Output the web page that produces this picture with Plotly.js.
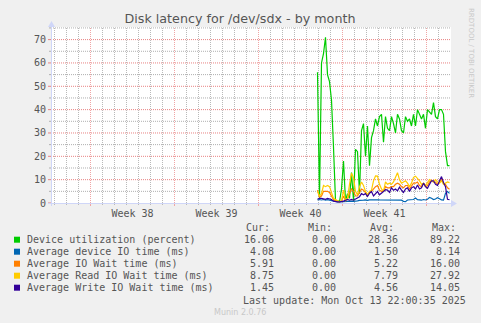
<!DOCTYPE html>
<html>
<head>
<meta charset="utf-8">
<script src="https://cdn.plot.ly/plotly-3.0.1.min.js"></script>
<style>html,body{margin:0;padding:0;background:#f0f0f0;}#chart{width:481px;height:323px;}</style>
</head>
<body>
<div id="chart"></div>
<script>
// ---- data ----
const seriesNames = [
  'Device utilization (percent)',
  'Average device IO time (ms)',
  'Average IO Wait time (ms)',
  'Average Read IO Wait time (ms)',
  'Average Write IO Wait time (ms)'
];
const seriesColors = ['#00cc00', '#0066b3', '#ff8000', '#ffcc00', '#330099'];
const startTime = '2025-10-02T22:00:00Z';
const stepHours = 4;

const utilization = [56, 2, 60, 64, 71, 55, 52, 44, 24, 1, 1, 0.5, 6, 18, 1, 4, 2, 13, 1, 23, 22, 4,
  31, 34, 20, 33, 16, 28, 31, 36, 33, 37, 38, 26, 37, 32, 31, 37, 34, 30, 38, 36, 31, 30, 37, 35,
  36, 33, 38, 33, 40, 38, 36, 38, 32, 40, 39, 38, 43, 37, 36, 40, 40, 38, 22, 16, 16];
const deviceIoTime = [1.3, 1.5, 1.3, 1.5, 1.2, 1.4, 1.2, 1, 0.7, 0.5, 0.5, 0.5, 0.6, 0.7, 0.5, 0.6, 0.7,
  0.8, 0.7, 0.7, 0.9, 1.1, 1.3, 1.2, 1.3, 1.1, 1.3, 1.4, 1.2, 1.3, 1.4, 1.3, 1.3, 1.5, 1.3, 1.3, 1.2,
  1.4, 1.3, 1.2, 1.4, 1.3, 1.2, 0.7, 0.6, 1.3, 1.4, 1.3, 1.5, 2.1, 1.4, 1.3, 1.2, 1.5, 1.3, 1.6, 2.4,
  2, 1.5, 1.7, 2.3, 1.8, 1.3, 1.2, 4.1, 4.9, 4.1];
const ioWait = [5.5, 2.5, 3, 5, 5, 5, 4.5, 3, 1.5, 1, 0.8, 0.5, 0.8, 3, 1, 1.8, 4, 6, 5, 3, 3, 4.5, 6,
  5.5, 4.5, 3, 4.5, 5, 6, 7, 7.5, 5.5, 5, 5, 7, 6.5, 6.5, 7, 7, 8, 8.5, 8, 7, 6.5, 7.5, 7.5, 6, 7.5,
  8.5, 8.5, 9, 7.5, 7, 8.5, 7, 7.5, 9, 9.5, 9, 9, 8, 8.8, 10, 8.5, 8, 6.5, 5.9];
const readIoWait = [5, 3, 4, 7.5, 7, 7.5, 7, 4, 2, 1.5, 1, 0.5, 1, 5.5, 1, 2, 8, 12.7, 11, 5, 3.5, 7, 9,
  7.5, 5, 3.5, 5, 5.5, 9.5, 11.6, 11.5, 8, 6, 5, 9, 8, 8.5, 8, 9, 11, 13, 10, 8.5, 9, 9.5, 8.5, 7, 8.5,
  11, 11.5, 10.5, 9.5, 8, 8.5, 7.5, 9, 10, 9.5, 9, 10, 9, 8.5, 9.5, 8, 8.5, 9, 8.75];
const writeIoWait = [1.6, 2, 2, 1.8, 1.6, 2, 1.7, 1.5, 0.8, 0.5, 0.5, 0.5, 0.5, 0.8, 1.2, 1.5, 1.2, 1.5,
  1.2, 1.8, 2.3, 2.7, 4, 3.5, 4, 2.8, 4.2, 4.9, 3, 4.1, 4.9, 3.5, 4.1, 4.9, 5.7, 5.5, 4.5, 6.5, 5.5, 6,
  5.2, 6.8, 5.5, 4.5, 6, 6.5, 5, 6.5, 7, 6, 7.7, 6, 6.5, 8.5, 7, 6.3, 8, 9.5, 9.5, 8, 7.5, 9.2, 11.3,
  8.8, 7, 1.6, 1.45];

const curValues = [16.06, 4.08, 5.91, 8.75, 1.45];
const minValues = [0.00, 0.00, 0.00, 0.00, 0.00];
const avgValues = [28.36, 1.50, 5.22, 7.79, 4.56];
const maxValues = [89.22, 8.14, 16.00, 27.92, 14.05];

const weekLabels = ['Week 38', 'Week 39', 'Week 40', 'Week 41'];
const weekMidpoints = ['2025-09-17 12:00', '2025-09-24 12:00', '2025-10-01 12:00', '2025-10-08 12:00'];
const weekStarts = ['2025-09-14', '2025-09-21', '2025-09-28', '2025-10-05', '2025-10-12'];
const xRange = ['2025-09-10 17:00', '2025-10-14 01:00'];
const yMax = 75.4;
const yMajorTicks = [0, 10, 20, 30, 40, 50, 60, 70];
const yMinorTicks = [5, 15, 25, 35, 45, 55, 65, 75];
const lastUpdate = 'Last update: Mon Oct 13 22:00:35 2025';

// ---- build ----
const allSeries = [utilization, deviceIoTime, ioWait, readIoWait, writeIoWait];
const t0 = Date.parse(startTime);
const fmt = ms => new Date(ms).toISOString().slice(0, 16).replace('T', ' ');
const times = utilization.map((_, i) => fmt(t0 + i * stepHours * 3600000));

const dayMs = 86400000;
const weekStartMs = weekStarts.map(d => Date.parse(d + 'T00:00:00Z'));
const dayTicks = [];
for (let d = Date.parse('2025-09-11T00:00:00Z'); d <= Date.parse('2025-10-13T00:00:00Z'); d += dayMs) {
  if (!weekStartMs.includes(d)) dayTicks.push(fmt(d));
}

const traces = allSeries.map((vals, k) => ({
  type: 'scatter', mode: 'lines', x: times, y: vals, name: seriesNames[k],
  line: {color: seriesColors[k], width: 1.2}, hoverinfo: 'skip', showlegend: false
}));

const L = 51, R = 451, T = 27, B = 203;
const W = R - L, H = B - T;
const px = v => (v - L) / W;
const py = v => (B - v) / H;

const mono = {family: 'DejaVu Sans Mono', size: 10, color: '#555'};
const redV = 'rgb(240,165,165)';
const grayV = 'rgb(185,185,185)';
const redH = 'rgb(232,130,130)';
const grayH = 'rgb(175,175,175)';
const axisCol = '#cfd6f8';
const dash = '1px,1px';

const shapes = [];
// grid (vertical)
dayTicks.forEach(d => {
  shapes.push({type: 'line', layer: 'below', xref: 'x', yref: 'paper', x0: d, x1: d, y0: 0, y1: 1,
    line: {color: grayV, width: 1, dash: dash}});
  shapes.push({type: 'line', xref: 'x', yref: 'paper', x0: d, x1: d, y0: -2 / H, y1: 0,
    line: {color: grayV, width: 1}});
});
weekStarts.forEach(d => {
  shapes.push({type: 'line', layer: 'below', xref: 'x', yref: 'paper', x0: d, x1: d, y0: 0, y1: 1,
    line: {color: redV, width: 1, dash: dash}});
  shapes.push({type: 'line', xref: 'x', yref: 'paper', x0: d, x1: d, y0: -3 / H, y1: 0,
    line: {color: redV, width: 1}});
});
// grid (horizontal)
yMinorTicks.forEach(v => {
  shapes.push({type: 'line', layer: 'below', xref: 'paper', yref: 'y', x0: 0, x1: 1, y0: v, y1: v,
    line: {color: grayH, width: 1, dash: dash}});
  shapes.push({type: 'line', xref: 'paper', yref: 'y', x0: -2 / W, x1: 0, y0: v, y1: v,
    line: {color: grayH, width: 1}});
});
yMajorTicks.forEach(v => {
  if (v > 0) shapes.push({type: 'line', layer: 'below', xref: 'paper', yref: 'y', x0: 0, x1: 1, y0: v, y1: v,
    line: {color: redH, width: 1, dash: dash}});
  shapes.push({type: 'line', xref: 'paper', yref: 'y', x0: -3 / W, x1: 0, y0: v, y1: v,
    line: {color: redH, width: 1}});
});
// axis lines and arrows
shapes.push({type: 'line', xref: 'paper', yref: 'paper', x0: -3 / W, x1: 1, y0: -0.5 / H, y1: -0.5 / H,
  line: {color: axisCol, width: 1}});
shapes.push({type: 'line', xref: 'paper', yref: 'paper', x0: 0.5 / W, x1: 0.5 / W, y0: -3 / H, y1: 1,
  line: {color: axisCol, width: 1}});
shapes.push({type: 'path', xref: 'paper', yref: 'paper',
  path: `M ${px(451)} ${py(200)} L ${px(457)} ${py(203.5)} L ${px(451)} ${py(207)} Z`,
  fillcolor: axisCol, line: {width: 0}});
shapes.push({type: 'path', xref: 'paper', yref: 'paper',
  path: `M ${px(48)} ${py(27)} L ${px(51.5)} ${py(21)} L ${px(55)} ${py(27)} Z`,
  fillcolor: axisCol, line: {width: 0}});

// legend / stats
const annotations = [];
const headers = [['Cur:', 245], ['Min:', 307], ['Avg:', 369], ['Max:', 431]];
headers.forEach(([txt, x]) => annotations.push({
  xref: 'paper', yref: 'paper', x: px(x), y: py(227.5), xanchor: 'left', yanchor: 'middle',
  text: txt, showarrow: false, font: mono, borderpad: 0
}));
const colsRight = [274.5, 336.5, 398.5, 461];
seriesNames.forEach((name, k) => {
  const yy = 239.7 + 12 * k;
  shapes.push({type: 'rect', xref: 'paper', yref: 'paper', x0: px(14), x1: px(20), y0: py(yy - 3), y1: py(yy + 3),
    fillcolor: seriesColors[k], line: {width: 0}});
  annotations.push({xref: 'paper', yref: 'paper', x: px(26), y: py(yy), xanchor: 'left', yanchor: 'middle',
    text: name, showarrow: false, font: mono, borderpad: 0});
  [curValues, minValues, avgValues, maxValues].forEach((arr, c) => annotations.push({
    xref: 'paper', yref: 'paper', x: px(colsRight[c]), y: py(yy), xanchor: 'right', yanchor: 'middle',
    text: arr[k].toFixed(2), showarrow: false, font: mono, borderpad: 0
  }));
});
annotations.push({xref: 'paper', yref: 'paper', x: px(466.5), y: py(300), xanchor: 'right', yanchor: 'middle',
  text: lastUpdate, showarrow: false, font: mono, borderpad: 0});
annotations.push({xref: 'paper', yref: 'paper', x: px(240), y: py(312), xanchor: 'center', yanchor: 'middle',
  text: 'Munin 2.0.76', showarrow: false, font: {family: 'DejaVu Sans', size: 8, color: '#c8c8c8'}, borderpad: 0});
annotations.push({xref: 'paper', yref: 'paper', x: px(471), y: py(53), xanchor: 'center', yanchor: 'middle',
  text: 'RRDTOOL / TOBI OETIKER', textangle: 90, showarrow: false,
  font: {family: 'DejaVu Sans', size: 7, color: '#c8c8c8'}, borderpad: 0});

const layout = {
  width: 481, height: 323,
  margin: {l: L, r: 481 - R, t: T, b: 323 - B, pad: 0},
  paper_bgcolor: '#f0f0f0', plot_bgcolor: '#ffffff',
  showlegend: false,
  title: {text: 'Disk latency for /dev/sdx - by month', xref: 'container', yref: 'container',
    x: 240 / 481, y: 1 - 19 / 323, xanchor: 'center', yanchor: 'middle',
    font: {family: 'DejaVu Sans', size: 12.7, color: '#555'}},
  xaxis: {
    type: 'date', range: xRange, tickmode: 'array', tickvals: weekMidpoints, ticktext: weekLabels,
    showgrid: false, zeroline: false, ticks: '', showline: false, ticklabelstandoff: 3,
    tickfont: mono, fixedrange: true
  },
  yaxis: {
    range: [0, yMax], tickmode: 'array', tickvals: yMajorTicks, showgrid: false,
    ticks: '', zeroline: false, showline: false, ticklabelstandoff: 4,
    tickfont: mono, fixedrange: true
  },
  annotations: annotations,
  shapes: shapes
};

Plotly.newPlot('chart', traces, layout, {staticPlot: true, displayModeBar: false});
</script>
</body>
</html>
